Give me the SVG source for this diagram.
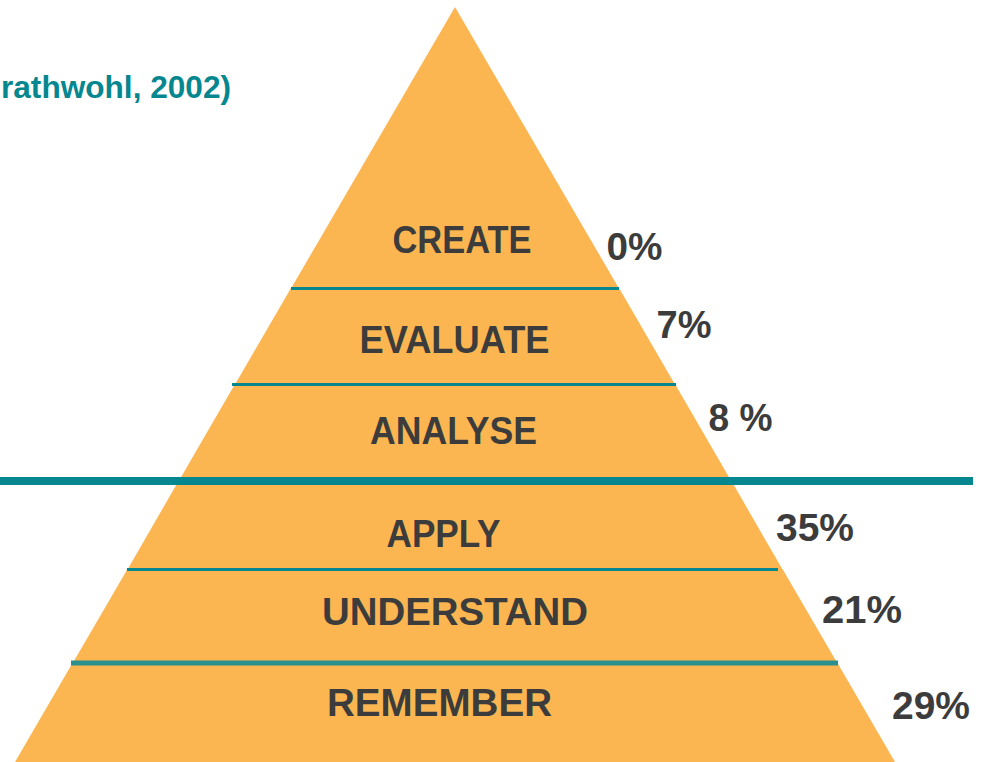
<svg xmlns="http://www.w3.org/2000/svg" width="987" height="762" viewBox="0 0 987 762">
<style>
.layer{fill:#FBB652;}
.lbl{font-family:"Liberation Sans",Arial,sans-serif;font-weight:bold;font-size:38px;fill:#3C3C3C;}
.pct{font-family:"Liberation Sans",Arial,sans-serif;font-weight:bold;font-size:38px;fill:#3C3C3C;}
.title{font-family:"Liberation Sans",Arial,sans-serif;font-weight:bold;font-size:32px;fill:#06878F;}
.div{stroke:#06878F;stroke-width:3;}
</style>
<rect width="987" height="762" fill="#FFFFFF"/>
<text class="title" x="1" y="98" textLength="230" lengthAdjust="spacingAndGlyphs">rathwohl, 2002)</text>
<g id="create">
<polygon class="layer" points="455,7 619,288.5 291,288.5"/>
<text class="lbl" x="392.5" y="253" textLength="139" lengthAdjust="spacingAndGlyphs">CREATE</text>
<text class="pct" x="606.5" y="260" textLength="56" lengthAdjust="spacingAndGlyphs">0%</text>
</g>
<g id="evaluate">
<polygon class="layer" points="291,288 619,288 675,384.5 235,384.5"/>
<text class="lbl" x="359.5" y="352.5" textLength="190" lengthAdjust="spacingAndGlyphs">EVALUATE</text>
<text class="pct" x="656.5" y="338" textLength="55" lengthAdjust="spacingAndGlyphs">7%</text>
</g>
<g id="analyse">
<polygon class="layer" points="235,384 675,384 731.5,481.5 178.5,481.5"/>
<text class="lbl" x="370" y="443.5" textLength="167" lengthAdjust="spacingAndGlyphs">ANALYSE</text>
<text class="pct" x="708.5" y="431" textLength="64" lengthAdjust="spacingAndGlyphs">8 %</text>
</g>
<g id="apply">
<polygon class="layer" points="178.5,481 731.5,481 782.5,569.5 127.5,569.5"/>
<text class="lbl" x="386.5" y="546.5" textLength="114" lengthAdjust="spacingAndGlyphs">APPLY</text>
<text class="pct" x="776" y="541" textLength="78" lengthAdjust="spacingAndGlyphs">35%</text>
</g>
<g id="understand">
<polygon class="layer" points="127.5,569 782.5,569 837.5,663.5 72.5,663.5"/>
<text class="lbl" x="322" y="625" textLength="266" lengthAdjust="spacingAndGlyphs">UNDERSTAND</text>
<text class="pct" x="822" y="623" textLength="80" lengthAdjust="spacingAndGlyphs">21%</text>
</g>
<g id="remember">
<polygon class="layer" points="72.5,663 837.5,663 895,762 15,762"/>
<text class="lbl" x="327" y="716" textLength="225" lengthAdjust="spacingAndGlyphs">REMEMBER</text>
<text class="pct" x="892" y="719" textLength="78" lengthAdjust="spacingAndGlyphs">29%</text>
</g>
<g id="connectors">
<line class="div" x1="291" y1="288.5" x2="619" y2="288.5"/>
<line class="div" x1="232" y1="384.5" x2="676" y2="384.5"/>
<line x1="0" y1="481" x2="973" y2="481" stroke="#06878F" stroke-width="8"/>
<line class="div" x1="127" y1="569.5" x2="778" y2="569.5"/>
<line x1="71" y1="663" x2="838" y2="663" stroke="#2B8F8E" stroke-width="5"/>
</g>
</svg>
